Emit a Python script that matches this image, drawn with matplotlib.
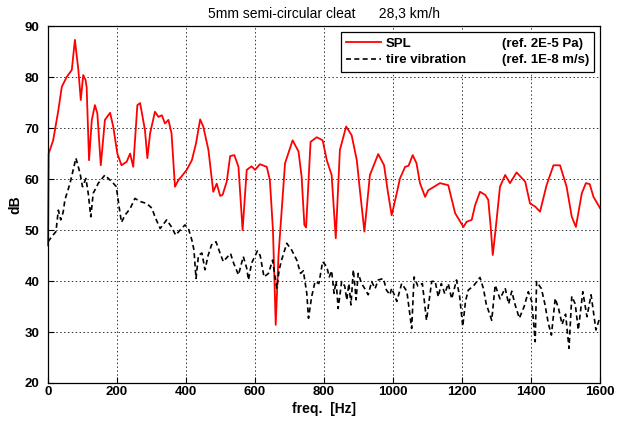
import matplotlib
matplotlib.use('Agg')
import matplotlib.pyplot as plt
from matplotlib.lines import Line2D

plt.rcParams['font.family'] = ['Liberation Sans', 'DejaVu Sans']

# SPL curve (ref. 2E-5 Pa)
spl_freq = [0, 2, 15, 30, 40, 54, 69, 78, 88, 95, 102, 109, 112, 119, 127, 136, 143, 153,
            165, 180, 189, 201, 213, 228, 238, 247, 259, 267, 281, 288, 296, 310, 320, 330,
            339, 349, 358, 368, 378, 387, 402, 417, 429, 441, 450, 465, 479, 489, 499, 506,
            518, 528, 540, 552, 564, 576, 590, 600, 614, 634, 643, 652, 660, 668, 687, 709,
            726, 735, 743, 748, 761, 779, 796, 808, 822, 834, 846, 864, 880, 895, 904, 917,
            933, 957, 974, 985, 996, 1011, 1020, 1035, 1045, 1057, 1068, 1078, 1093, 1102,
            1112, 1136, 1160, 1180, 1204, 1213, 1228, 1238, 1252, 1267, 1276, 1283, 1289,
            1296, 1310, 1325, 1339, 1358, 1383, 1397, 1412, 1426, 1445, 1465, 1484, 1503,
            1518, 1530, 1547, 1559, 1570, 1581, 1600]
spl_db = [47, 65, 67.6, 73.5, 78.1, 80, 81.4, 87.3, 81.4, 75.5, 80.4, 79.4, 78, 63.7, 71.6,
          74.5, 72.9, 62.7, 71.6, 73, 70.3, 65, 62.7, 63.4, 65, 62.4, 74.5, 74.9, 69.6, 64.1,
          69, 73.2, 72.2, 72.5, 70.9, 71.6, 69, 58.5, 59.8, 60.5, 61.8, 63.7, 67, 71.7, 70.3,
          65.7, 57.5, 59.1, 56.7, 56.9, 59.5, 64.5, 64.7, 62.4, 50, 61.8, 62.5, 61.8, 62.9,
          62.4, 59.8, 50, 31.4, 45, 63.1, 67.6, 65.4, 60.5, 51, 50.5, 67.3, 68.2, 67.6, 63.7,
          60.8, 48.4, 65.7, 70.3, 68.6, 63.7, 57.8, 49.7, 60.8, 64.9, 62.7, 57.5, 52.9, 57.3,
          60.1, 62.4, 62.6, 64.7, 63.1, 59.2, 56.5, 57.8, 58.2, 59.2, 58.8, 53.3, 50.6, 51.6,
          52, 54.9, 57.5, 56.9, 55.9, 50.6, 45.1, 49.3, 58.5, 60.8, 59.2, 61.3, 59.5, 55.2,
          54.6, 53.6, 58.8, 62.7, 62.7, 58.5, 52.6, 50.6, 57.2, 59.2, 59, 56.5, 54.3]

# tire vibration curve (ref. 1E-8 m/s)
vib_freq = [0, 11, 23, 30, 37, 44, 49, 64, 81, 93, 100, 110, 117, 124, 131, 146, 165, 175,
            189, 198, 206, 213, 223, 238, 252, 267, 286, 301, 310, 325, 344, 358, 370, 383,
            397, 407, 417, 423, 429, 436, 446, 455, 464, 474, 487, 499, 508, 517, 529, 538,
            552, 566, 576, 581, 590, 607, 615, 626, 639, 651, 658, 663, 670, 677, 692, 706,
            721, 732, 740, 750, 755, 764, 774, 785, 796, 808, 815, 822, 829, 835, 841, 851,
            860, 866, 872, 878, 885, 893, 899, 909, 918, 928, 938, 948, 957, 972, 981, 991,
            996, 1011, 1025, 1040, 1054, 1061, 1072, 1085, 1097, 1112, 1122, 1131, 1140,
            1150, 1160, 1170, 1184, 1193, 1202, 1210, 1218, 1235, 1252, 1262, 1270, 1276,
            1286, 1296, 1310, 1325, 1335, 1344, 1354, 1366, 1380, 1392, 1402, 1412, 1416,
            1430, 1440, 1450, 1459, 1470, 1480, 1490, 1500, 1510, 1518, 1528, 1537, 1550,
            1562, 1574, 1588, 1600]
vib_db = [47.7, 48.7, 49.7, 53.9, 52, 53.5, 55.9, 59.2, 64.1, 61.1, 58.5, 60.1, 57, 52.6,
          57.2, 59.2, 60.8, 60.1, 59.2, 58.5, 54.6, 51.5, 52.9, 54.2, 56.2, 55.6, 55.2, 54.3,
          52.6, 50.3, 52, 50.6, 49, 50, 51, 50.3, 48, 46.1, 40.5, 45, 45.5, 42.2, 45, 47.1,
          47.7, 45.4, 43.8, 44.5, 45.4, 43.5, 41.2, 44.8, 42.5, 40.2, 43.5, 45.9, 45, 40.8,
          41.5, 44.1, 40.8, 38.6, 42.2, 44.1, 47.4, 46.1, 44.1, 41.5, 42, 37.6, 32.7, 36.9,
          39.9, 39.5, 43.8, 42.8, 40.8, 42, 37.6, 40, 34.6, 39.9, 39, 36.3, 39.5, 35.3, 42.2,
          36.3, 41.5, 39.5, 38.5, 37.3, 39.9, 38.5, 40.2, 40.5, 38.2, 37.3, 38.6, 36, 39.5,
          38, 30.7, 40.8, 39, 39.5, 32.3, 39.9, 40, 36.9, 39.5, 37.5, 39.5, 36.5, 40.2, 37,
          31.1, 36, 38.2, 39.2, 40.7, 38.5, 35.5, 34.3, 32.3, 39.2, 36.5, 38.6, 35.5, 38,
          35.3, 32.7, 35, 37.9, 36, 28.1, 39.9, 38.5, 35.5, 31.7, 29.4, 36.6, 34.5, 31.5,
          33.5, 26.8, 37, 35.5, 30.4, 37.9, 33, 37.3, 30.4, 33]

x_ticks = [0, 200, 400, 600, 800, 1000, 1200, 1400, 1600]
y_ticks = [20, 30, 40, 50, 60, 70, 80, 90]

fig = plt.figure(figsize=(6.29, 4.21), dpi=100)
ax = fig.add_axes([0.0763, 0.0903, 0.8777, 0.8477])

ax.plot(spl_freq, spl_db, color='red', lw=1.3, clip_on=False)
ax.plot(vib_freq, vib_db, color='black', lw=1.2, ls=(0, (3, 2)))

ax.set_xlim(0, 1600)
ax.set_ylim(20, 90)
ax.set_xticks(x_ticks)
ax.set_yticks(y_ticks)
ax.grid(True, color='#333333', ls=(0, (1.5, 2.5)), lw=0.7)
ax.tick_params(direction='in', length=4, width=0.8, labelsize=9.5)
ax.tick_params(axis='x', pad=2)
ax.tick_params(axis='y', pad=6)
for lab in ax.get_xticklabels() + ax.get_yticklabels():
    lab.set_fontweight('bold')
for sp in ax.spines.values():
    sp.set_linewidth(0.9)

ax.set_xlabel('freq.  [Hz]', fontsize=10, fontweight='bold', labelpad=3)
ax.set_ylabel('dB', fontsize=10, fontweight='bold', labelpad=2)
ax.set_title('5mm semi-circular cleat      28,3 km/h', fontsize=10, pad=6)

blank = Line2D([], [], color='none')
handles = [Line2D([], [], color='red', lw=1.3),
           Line2D([], [], color='black', lw=1.2, ls=(0, (3, 2))),
           blank, blank]
labels = ['SPL', 'tire vibration', '(ref. 2E-5 Pa)', '(ref. 1E-8 m/s)']
leg = ax.legend(handles, labels, ncol=2, loc='upper right', fancybox=False,
                edgecolor='black', framealpha=1, borderaxespad=0.45,
                handlelength=2.6, handletextpad=0.4, columnspacing=-0.3,
                labelspacing=0.35, borderpad=0.4,
                prop={'weight': 'bold', 'size': 9.5})
leg.get_frame().set_linewidth(0.9)

fig.savefig('out.png', dpi=100)
